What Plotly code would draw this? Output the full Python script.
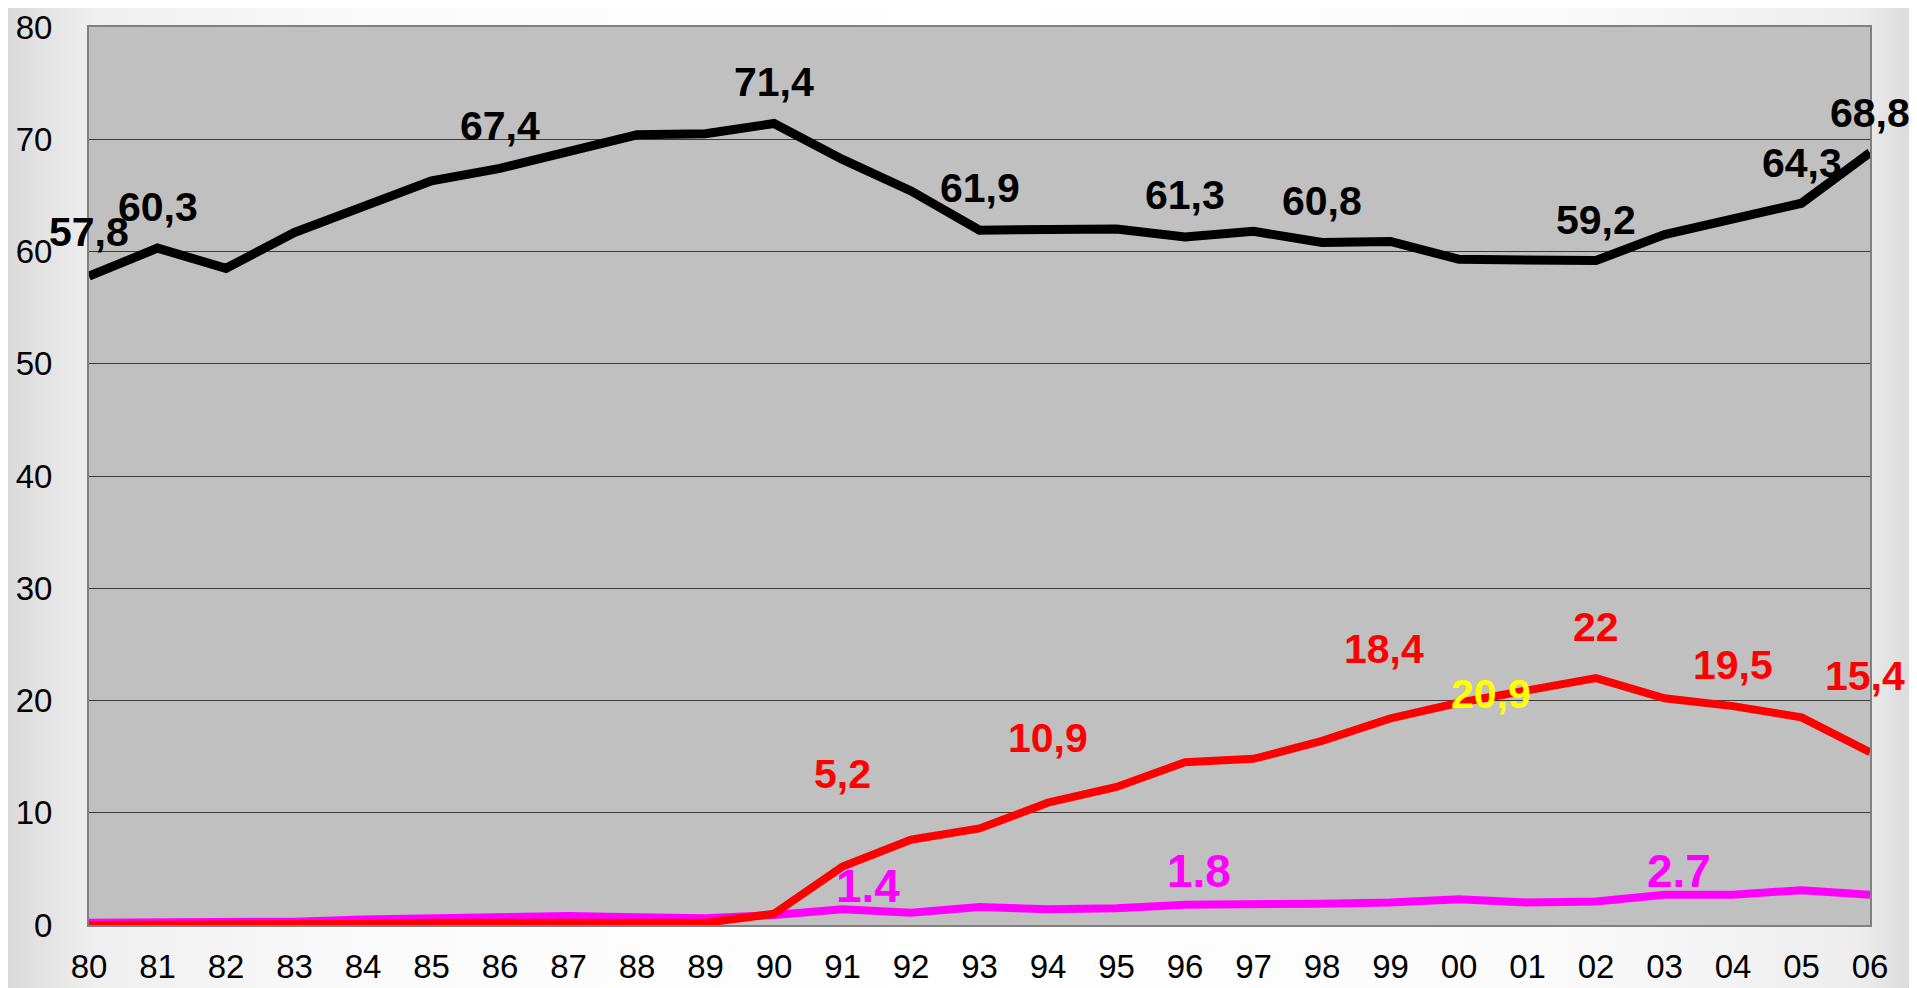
import base64
import plotly.graph_objects as go

# Datos
anios = ["80", "81", "82", "83", "84", "85", "86", "87", "88", "89", "90", "91", "92", "93",
         "94", "95", "96", "97", "98", "99", "00", "01", "02", "03", "04", "05", "06"]

serie_negra = [57.8, 60.3, 58.5, 61.7, 64.0, 66.3, 67.4, 69.0, 70.4, 70.5, 71.4, 68.2, 65.4, 61.9,
               62.0, 62.0, 61.3, 61.8, 60.8, 60.9, 59.3, 59.2, 59.2, 61.5, 63.0, 64.3, 68.8]
serie_roja = [0.0, 0.0, 0.0, 0.0, 0.1, 0.2, 0.2, 0.2, 0.2, 0.2, 1.0, 5.2, 7.6, 8.6,
              10.9, 12.3, 14.5, 14.8, 16.4, 18.4, 19.8, 20.9, 22.0, 20.2, 19.5, 18.5, 15.4]
serie_magenta = [0.2, 0.2, 0.3, 0.3, 0.5, 0.6, 0.7, 0.8, 0.7, 0.6, 0.9, 1.4, 1.1, 1.6,
                 1.4, 1.5, 1.8, 1.8, 1.9, 2.0, 2.3, 2.0, 2.1, 2.7, 2.7, 3.1, 2.7]

# Etiquetas de datos
etq_negra_anios = ["80", "81", "86", "90", "93", "96", "98", "02", "05", "06"]
etq_negra_txt = ["57,8", "60,3", "67,4", "71,4", "61,9", "61,3", "60,8", "59,2", "64,3", "68,8"]
etq_roja_anios = ["91", "94", "99", "02", "04", "06"]
etq_roja_txt = ["5,2", "10,9", "18,4", "22", "19,5", "15,4"]
etq_amarilla_anios = ["01"]
etq_amarilla_txt = ["20,9"]
etq_magenta_anios = ["91", "96", "03"]
etq_magenta_txt = ["1.4", "1.8", "2.7"]

ticks_y = [0, 10, 20, 30, 40, 50, 60, 70, 80]

# la pagina deja 8 px de margen en el body
W, H = 1909, 980
ML, MR, MT, MB = 81, 47, 19, 63

fig = go.Figure()

fig.add_trace(go.Scatter(x=anios, y=serie_negra, mode="lines",
                         line=dict(color="#000000", width=9)))
fig.add_trace(go.Scatter(x=anios, y=serie_magenta, mode="lines",
                         line=dict(color="#FF00FF", width=8)))
fig.add_trace(go.Scatter(x=anios, y=serie_roja, mode="lines",
                         line=dict(color="#FF0000", width=8)))

#
# Anotaciones
#
fuente = "Liberation Sans, Arial, sans-serif"


def etiquetas(anios_l, textos, serie, color, xs, ys, tam=41):
    for a, t, dx, dy in zip(anios_l, textos, xs, ys):
        i = anios.index(a)
        fig.add_annotation(x=i, y=serie[i], text="<b>" + t + "</b>", showarrow=False,
                           xanchor="center", yanchor="middle",
                           xshift=dx, yshift=dy,
                           font=dict(family=fuente, size=tam, color=color))


etiquetas(etq_negra_anios, etq_negra_txt, serie_negra, "#000000",
          [0, 0, 0, 0, 0, 0, 0, 0, 0, 0], [44, 41, 42, 42, 42, 42, 42, 40, 40, 40])
etiquetas(etq_roja_anios, etq_roja_txt, serie_roja, "#FF0000",
          [0, 0, -7, 0, 0, -5], [93, 65, 69, 51, 41, 76])
etiquetas(etq_amarilla_anios, etq_amarilla_txt, serie_roja, "#FFFF00",
          [-37], [-4])
etiquetas(etq_magenta_anios, etq_magenta_txt, serie_magenta, "#FF00FF",
          [25, 14, 14], [23, 34, 24], tam=46)

#
# Fondo degradado
#
svg = f"""<svg xmlns='http://www.w3.org/2000/svg' width='{W}' height='{H}'>
<defs>
<linearGradient id='g' x1='0' y1='0' x2='1' y2='0'>
<stop offset='0' stop-color='#dadada'/>
<stop offset='0.045' stop-color='#efefef'/>
<stop offset='0.2' stop-color='#fbfbfb'/>
<stop offset='0.5' stop-color='#ffffff'/>
<stop offset='0.8' stop-color='#fbfbfb'/>
<stop offset='0.97' stop-color='#ededed'/>
<stop offset='1' stop-color='#d9d9d9'/>
</linearGradient>
</defs>
<rect width='{W}' height='{H}' fill='url(#g)'/>
</svg>"""
src = "data:image/svg+xml;base64," + base64.b64encode(svg.encode()).decode()
pw = W - ML - MR
ph = H - MT - MB
fig.add_layout_image(dict(source=src, xref="paper", yref="paper",
                          x=-ML / pw, y=1 + MT / ph, sizex=W / pw, sizey=H / ph,
                          xanchor="left", yanchor="top", sizing="stretch", layer="below"))

# Area del grafico (gris)
fig.add_shape(type="rect", xref="paper", yref="paper", x0=0, x1=1, y0=0, y1=1,
              fillcolor="#C0C0C0", line=dict(width=0), layer="below")

fig.update_layout(
    width=W, height=H,
    margin=dict(l=ML, r=MR, t=MT, b=MB, autoexpand=False),
    paper_bgcolor="#ffffff",
    plot_bgcolor="#C0C0C0",
    showlegend=False,
    font=dict(family=fuente, color="#000000"),
)

fig.update_xaxes(
    type="category", range=[0, len(anios) - 1], automargin=False,
    showgrid=False, zeroline=False,
    showline=True, mirror=True, linecolor="#808080", linewidth=2,
    ticks="outside", ticklen=11, tickcolor="rgba(0,0,0,0)",
    tickfont=dict(size=33, color="#000000"),
)
fig.update_yaxes(
    range=[0, 80], tickvals=ticks_y, automargin=False,
    showgrid=True, gridcolor="#3a3a3a", gridwidth=1,
    zeroline=False,
    showline=True, mirror=True, linecolor="#808080", linewidth=2,
    ticks="outside", ticklen=28, tickcolor="rgba(0,0,0,0)",
    tickfont=dict(size=33, color="#000000"),
)

fig.write_html("out.html")
